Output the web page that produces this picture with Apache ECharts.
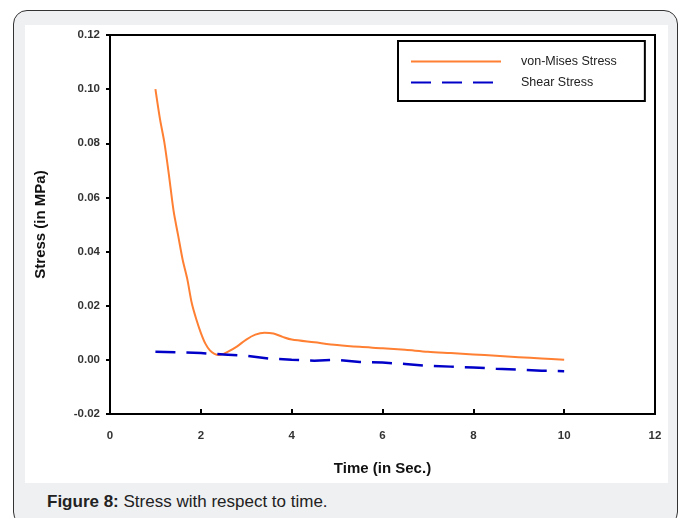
<!DOCTYPE html>
<html>
<head>
<meta charset="utf-8">
<script src="https://cdn.jsdelivr.net/npm/echarts@6/dist/echarts.min.js"></script>
<style>
  html, body { margin: 0; padding: 0; background: #fff; }
  #frame {
    position: absolute; left: 13px; top: 10px; width: 663px; height: 514px;
    border: 1.5px solid #333; border-radius: 14px; background: #eff0f2;
  }
  #paper { position: absolute; left: 25px; top: 25px; width: 643px; height: 458px; background: #fff; }
  #caption {
    position: absolute; left: 47px; top: 492px;
    font-family: "Liberation Sans", Arial, sans-serif; font-size: 17px; color: #222;
  }
  #chart { position: absolute; left: 0; top: 0; width: 685px; height: 518px; }
</style>
</head>
<body>
<div id="frame"></div>
<div id="paper"></div>
<div id="caption"><b>Figure 8:</b> Stress with respect to time.</div>
<div id="chart"></div>
<script>
// von-Mises stress (time in s, stress in MPa)
var vmTime   = [1.0, 1.1, 1.2, 1.3, 1.4, 1.5, 1.6, 1.7, 1.8, 1.9, 2.0, 2.1, 2.2, 2.3, 2.4, 2.5, 2.6, 2.8, 3.0, 3.2, 3.4, 3.6, 3.8, 4.0, 4.5, 5.0, 5.5, 6.0, 6.5, 7.0, 7.5, 8.0, 8.5, 9.0, 9.5, 10.0];
var vmStress = [0.100, 0.089, 0.080, 0.068, 0.055, 0.046, 0.037, 0.030, 0.021, 0.015, 0.010, 0.006, 0.0035, 0.0022, 0.0018, 0.0022, 0.0030, 0.0050, 0.0075, 0.0093, 0.0100, 0.0097, 0.0085, 0.0075, 0.0065, 0.0055, 0.0048, 0.0043, 0.0037, 0.0030, 0.0025, 0.0020, 0.0015, 0.0010, 0.0005, 0.0000];

// shear stress
var shTime   = [1.0, 1.5, 2.0, 2.5, 3.0, 3.5, 4.0, 4.5, 5.0, 5.5, 6.0, 6.5, 7.0, 7.5, 8.0, 8.5, 9.0, 9.5, 10.0];
var shStress = [0.0030, 0.0028, 0.0025, 0.0020, 0.0015, 0.0005, 0.0000, -0.0003, 0.0000, -0.0008, -0.0010, -0.0015, -0.0022, -0.0025, -0.0028, -0.0033, -0.0036, -0.0040, -0.0042];

var xTicks = [0, 2, 4, 6, 8, 10, 12];
var yTicks = [-0.02, 0.00, 0.02, 0.04, 0.06, 0.08, 0.10, 0.12];

function pairs(xs, ys) {
  return xs.map(function (x, i) { return [x, ys[i]]; });
}

var chart = echarts.init(document.getElementById('chart'));
var font = '"Liberation Sans", Arial, sans-serif';

chart.setOption({
  animation: false,
  backgroundColor: 'transparent',
  textStyle: { fontFamily: font },
  grid: { left: 110, top: 35, right: 30, bottom: 104, show: true, borderColor: '#000', borderWidth: 2 },
  legend: {
    left: 398, top: 41, orient: 'vertical',
    borderColor: '#000', borderWidth: 2,
    padding: [14, 28, 12, 12],
    itemWidth: 90, itemHeight: 10, itemGap: 8,
    itemStyle: { opacity: 0 },
    textStyle: { fontSize: 12.5, color: '#222', padding: [0, 0, 0, 15] },
    data: ['von-Mises Stress', 'Shear Stress']
  },
  xAxis: {
    type: 'value',
    min: xTicks[0], max: xTicks[xTicks.length - 1], interval: 2,
    name: 'Time (in Sec.)', nameLocation: 'middle', nameGap: 47,
    nameTextStyle: { fontSize: 15, fontWeight: 'bold', color: '#111' },
    axisLine: { onZero: false, lineStyle: { color: '#000', width: 2 } },
    axisTick: { inside: true, length: 5, lineStyle: { color: '#000', width: 2 } },
    axisLabel: { fontSize: 11.5, fontWeight: 'bold', color: '#333', margin: 16 },
    splitLine: { show: false }
  },
  yAxis: {
    type: 'value',
    min: yTicks[0], max: yTicks[yTicks.length - 1], interval: 0.02,
    name: 'Stress (in MPa)', nameLocation: 'middle', nameGap: 62,
    nameTextStyle: { fontSize: 15, fontWeight: 'bold', color: '#111' },
    axisLine: { show: true, onZero: false, lineStyle: { color: '#000', width: 2 } },
    axisTick: { show: true, length: 4, lineStyle: { color: '#000', width: 2 } },
    axisLabel: {
      fontSize: 11.5, fontWeight: 'bold', color: '#333', margin: 10,
      formatter: function (v) { return v.toFixed(2); }
    },
    splitLine: { show: false }
  },
  series: [
    {
      name: 'von-Mises Stress', type: 'line', smooth: 0.3, symbol: 'none',
      data: pairs(vmTime, vmStress),
      itemStyle: { color: '#ff7f33' },
      lineStyle: { color: '#ff7f33', width: 2 }
    },
    {
      name: 'Shear Stress', type: 'line', symbol: 'none',
      data: pairs(shTime, shStress),
      itemStyle: { color: '#0000c8' },
      lineStyle: { color: '#0000c8', width: 2.5, type: [20, 11] }
    }
  ]
});
</script>
</body>
</html>
